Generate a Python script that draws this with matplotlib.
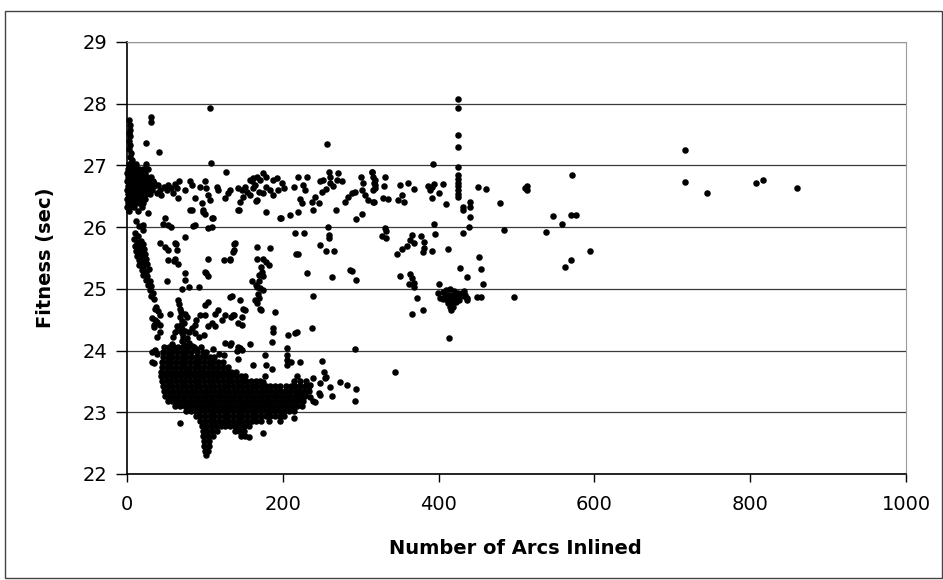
import numpy as np
import matplotlib
matplotlib.use("Agg")
import matplotlib.pyplot as plt
from matplotlib.patches import Rectangle

# (arcs inlined, fitness in sec), grouped by region

left_column = [
    (3, 27.74), (4, 27.66), (4, 27.58), (3, 27.52), (4, 27.47), (3, 27.40),
    (4, 27.33), (3, 27.27), (5, 27.20), (4, 27.14), (6, 27.08),
    (31, 27.78), (31, 27.70), (25, 27.36), (41, 27.22), (107, 27.93), (108, 27.04),
]

# dense block at the far left, rows of (fitness, [arcs])
left_block_rows = [
    (27.02, [2, 7, 12, 24]),
    (26.95, [1, 6, 10, 15, 20, 27]),
    (26.88, [0, 4, 9, 14, 18, 23]),
    (26.81, [1, 6, 11, 16, 21, 26, 31]),
    (26.74, [0, 4, 9, 13, 18, 23, 28, 33]),
    (26.67, [1, 6, 10, 15, 20, 25, 30, 35]),
    (26.60, [0, 4, 8, 13, 18, 22, 27, 32]),
    (26.53, [1, 5, 10, 15, 19, 24, 29]),
    (26.46, [0, 4, 9, 14, 18, 23]),
    (26.39, [1, 5, 10, 16, 21]),
    (26.32, [0, 4, 9, 19]),
    (26.26, [3, 14]),
]

left_band = [
    (12, 26.10), (16, 26.02), (21, 25.96), (10, 25.90), (14, 25.86), (9, 25.80),
    (13, 25.76), (18, 25.78), (10, 25.70), (15, 25.68), (20, 25.72), (12, 25.62),
    (17, 25.60), (22, 25.64), (13, 25.54), (18, 25.52), (23, 25.56), (15, 25.46),
    (20, 25.44), (25, 25.48), (16, 25.38), (21, 25.36), (26, 25.40), (19, 25.30),
    (24, 25.28), (28, 25.32), (21, 25.22), (26, 25.20), (24, 25.14), (29, 25.12),
    (27, 25.06), (31, 25.04), (29, 24.98), (33, 24.94), (31, 24.88), (35, 24.84),
    (27, 26.23), (21, 26.03), (49, 26.14), (53, 26.03), (56, 26.00), (42, 25.74),
    (49, 25.68), (53, 25.63), (62, 25.74), (64, 25.63), (53, 25.47), (62, 25.48),
    (75, 25.84), (51, 25.12), (74, 25.25), (75, 25.14), (100, 25.28), (104, 25.20),
    (70, 25.00), (92, 25.03), (104, 25.48), (124, 25.47), (132, 25.47), (139, 25.74),
    (137, 25.63), (143, 26.28), (109, 26.14), (98, 26.28), (100, 26.22), (83, 26.28),
    (87, 26.03), (109, 26.00), (63, 25.72), (46, 26.05), (85, 26.02), (104, 25.99),
    (66, 25.40), (60, 25.45), (102, 25.25), (80, 25.03),
]

top_band = [
    (34, 26.71), (40, 26.68), (47, 26.65), (53, 26.68), (57, 26.63), (51, 26.60),
    (42, 26.60), (38, 26.55), (44, 26.52), (62, 26.70), (64, 26.63), (59, 26.55),
    (66, 26.47), (67, 26.75), (74, 26.60), (81, 26.74), (83, 26.68), (81, 26.28),
    (87, 26.47), (94, 26.65), (100, 26.74), (102, 26.63), (96, 26.39), (98, 26.25),
    (104, 26.52), (107, 26.44), (111, 26.14), (115, 26.65), (117, 26.60), (126, 26.47),
    (127, 26.90), (130, 26.55), (132, 26.60), (143, 26.63), (147, 26.60), (152, 26.65),
    (145, 26.41), (149, 26.49), (158, 26.76), (162, 26.79), (167, 26.82), (171, 26.76),
    (175, 26.87), (179, 26.82), (162, 26.63), (169, 26.57), (175, 26.55), (179, 26.65),
    (184, 26.60), (188, 26.76), (192, 26.79), (167, 26.44), (179, 26.25), (196, 26.14),
    (209, 26.20), (214, 26.65), (220, 26.25), (224, 26.39), (220, 26.82), (231, 26.82),
    (226, 26.68), (154, 26.57), (158, 26.52), (160, 26.74), (164, 26.68), (188, 26.52),
    (194, 26.60), (199, 26.71), (201, 26.63), (166, 26.43), (144, 26.27), (198, 26.14),
    (229, 26.60), (222, 26.45), (239, 26.28), (237, 26.40), (241, 26.49), (246, 26.39),
    (248, 26.74), (252, 26.77), (250, 26.57), (256, 26.61), (261, 26.71), (259, 26.90),
    (261, 26.82), (265, 26.66), (269, 26.76), (271, 26.87), (276, 26.74), (268, 26.27),
    (280, 26.41), (284, 26.49), (289, 26.55), (293, 26.57), (294, 26.13), (302, 26.22),
    (300, 26.82), (303, 26.71), (301, 26.60), (306, 26.52), (309, 26.44), (315, 26.90),
    (316, 26.82), (317, 26.71), (318, 26.63), (317, 26.41), (257, 27.34),
]

mid_cloud = [
    (36, 24.68), (32, 24.52), (35, 24.41), (42, 24.58), (55, 24.60), (77, 24.55),
    (89, 24.49), (100, 24.74), (113, 24.60), (117, 24.66), (122, 24.49), (136, 24.58),
    (145, 24.82), (83, 24.36), (87, 24.41), (109, 24.44), (36, 24.49), (34, 24.38),
    (42, 24.41), (94, 24.58), (100, 24.58), (126, 24.58), (134, 24.55), (143, 24.44),
    (104, 24.39), (113, 24.39), (87, 24.28), (92, 24.22), (42, 24.30), (38, 24.22),
    (59, 24.22), (126, 24.12), (134, 24.12), (143, 24.06), (147, 24.01), (32, 23.82),
    (36, 24.01), (38, 23.95), (68, 22.82), (132, 24.87), (99, 24.25), (135, 24.88),
    (37, 24.71), (40, 24.64), (39, 24.46), (32, 23.98), (35, 23.80), (80, 24.30),
    (104, 24.78),
    (66, 24.82), (67, 24.75), (68, 24.68), (69, 24.62), (68, 24.55), (70, 24.48),
    (69, 24.41), (71, 24.35), (70, 24.28), (72, 24.22), (71, 24.15), (73, 24.09),
    (74, 24.60), (73, 24.45), (75, 24.32), (74, 24.18), (66, 24.33), (64, 24.40),
    (62, 24.30), (58, 24.10), (77, 24.20), (80, 24.12), (84, 24.08),
    (169, 25.22), (175, 25.20), (160, 25.12), (167, 25.03), (171, 25.01), (175, 24.98),
    (164, 24.82), (169, 24.85), (167, 24.77), (171, 24.68), (172, 24.66), (149, 24.68),
    (152, 24.66), (137, 24.58), (147, 24.55), (147, 24.41), (190, 24.62), (167, 25.67),
    (184, 25.66), (167, 25.49), (175, 25.49), (178, 25.44), (182, 25.39), (173, 25.28),
    (170, 25.12), (168, 24.92), (166, 25.07), (172, 25.35),
    (231, 25.25), (263, 25.19), (286, 25.30), (294, 25.14), (239, 24.88), (216, 25.90),
    (227, 25.90), (259, 25.87), (259, 25.82), (248, 25.71), (255, 25.61), (266, 25.61),
    (217, 25.56), (137, 25.73), (136, 25.60), (289, 25.29), (132, 25.49), (219, 25.57),
    (258, 26.00), (237, 24.37), (216, 24.28), (207, 24.25), (188, 24.36), (188, 24.30),
    (218, 24.30),
]

blob_edge = [
    (88, 24.02), (95, 24.05), (102, 23.98), (110, 24.03), (118, 23.95), (124, 23.92),
    (132, 24.09), (141, 24.00), (145, 24.04), (158, 24.11), (143, 23.87), (177, 23.93),
    (162, 23.76), (179, 23.76), (186, 23.70), (177, 23.58), (175, 23.49), (139, 23.63),
    (186, 24.14), (205, 24.04), (206, 23.93), (206, 23.85), (206, 23.76), (211, 23.82),
    (222, 23.82), (218, 23.59), (250, 23.83), (253, 23.66), (254, 23.55), (256, 23.57),
    (239, 23.55), (235, 23.44), (248, 23.47), (246, 23.31), (248, 23.28), (261, 23.41),
    (263, 23.26), (273, 23.49), (282, 23.44), (293, 24.02), (294, 23.37), (293, 23.18),
    (239, 23.19), (241, 23.17), (214, 22.90), (175, 22.66), (156, 22.60), (145, 22.70),
    (344, 23.66), (229, 23.31), (235, 23.25), (224, 23.25),
]

# the dense mass at the lower left, rows of (fitness, [arcs])
main_blob_rows = [
    (24.06, [48, 54, 60, 66, 72, 78, 86]),
    (23.98, [46, 52, 58, 64, 70, 76, 82, 90, 97]),
    (23.90, [46, 52, 58, 64, 70, 76, 82, 88, 94, 100, 106, 112]),
    (23.82, [45, 51, 57, 63, 69, 75, 81, 87, 93, 99, 105, 111, 117, 123]),
    (23.74, [45, 51, 57, 63, 69, 75, 81, 87, 93, 99, 105, 111, 117, 123, 129]),
    (23.66, [44, 50, 56, 62, 68, 74, 80, 86, 92, 98, 104, 110, 116, 122, 128, 134, 140]),
    (23.58, [44, 50, 56, 62, 68, 74, 80, 86, 92, 98, 104, 110, 116, 122, 128, 134, 140,
             146, 152]),
    (23.50, [45, 51, 57, 63, 69, 75, 81, 87, 93, 99, 105, 111, 117, 123, 129, 135, 141,
             147, 153, 159, 165, 171, 214, 222, 230]),
    (23.42, [46, 52, 58, 64, 70, 76, 82, 88, 94, 100, 106, 112, 118, 124, 130, 136, 142,
             148, 154, 160, 166, 172, 178, 184, 190, 196, 204, 210, 216, 222, 228, 234]),
    (23.34, [47, 53, 59, 65, 71, 77, 83, 89, 95, 101, 107, 113, 119, 125, 131, 137, 143,
             149, 155, 161, 167, 173, 179, 185, 191, 197, 203, 209, 215, 221, 227, 233]),
    (23.26, [49, 55, 61, 67, 73, 79, 85, 91, 97, 103, 109, 115, 121, 127, 133, 139, 145,
             151, 157, 163, 169, 175, 181, 187, 193, 199, 205, 211, 217, 223, 229]),
    (23.18, [52, 58, 64, 70, 76, 82, 88, 94, 100, 106, 112, 118, 124, 130, 136, 142, 148,
             154, 160, 166, 172, 178, 184, 190, 196, 202, 208, 214, 220, 226]),
    (23.10, [62, 68, 74, 80, 86, 92, 98, 104, 110, 116, 122, 128, 134, 140, 146, 152, 158,
             164, 170, 176, 182, 188, 194, 200, 206, 212, 218, 224]),
    (23.02, [76, 82, 88, 94, 100, 106, 112, 118, 124, 130, 136, 142, 148, 154, 160, 166,
             172, 178, 184, 190, 196, 202, 208, 214]),
    (22.94, [88, 94, 100, 106, 112, 118, 124, 130, 136, 142, 148, 154, 160, 166, 172, 178,
             184, 190, 196, 202]),
    (22.86, [94, 100, 106, 112, 118, 124, 130, 136, 142, 148, 154, 160, 166, 172, 182, 196]),
    (22.78, [96, 102, 108, 114, 120, 126, 132, 138, 144, 150, 156]),
    (22.70, [97, 103, 109, 115, 138, 144, 150]),
    (22.62, [98, 104, 110, 146, 152]),
    (22.54, [99, 105]),
    (22.46, [99, 105]),
    (22.38, [100, 104]),
    (22.30, [101]),
]

right_side = [
    (314, 26.90), (318, 26.76), (318, 26.68), (316, 26.60), (331, 26.81), (330, 26.67),
    (316, 26.41), (329, 26.47), (335, 26.45), (351, 26.68), (353, 26.52), (348, 26.44),
    (355, 26.41), (361, 26.72), (369, 26.61), (387, 26.67), (389, 26.60), (391, 26.65),
    (394, 26.70), (391, 26.48), (400, 26.55), (406, 26.70), (410, 26.37), (393, 27.02),
    (431, 26.33), (431, 26.28), (440, 26.41), (440, 26.33), (440, 26.17), (439, 26.00),
    (451, 26.65), (461, 26.61), (479, 26.39), (484, 25.95), (431, 25.91), (394, 26.05),
    (395, 25.89), (331, 25.99), (333, 25.93), (327, 25.85), (333, 25.82), (366, 25.87),
    (363, 25.79), (368, 25.74), (359, 25.69), (353, 25.64), (347, 25.56), (378, 25.85),
    (381, 25.76), (381, 25.66), (380, 25.59), (391, 25.61), (412, 25.64), (452, 25.52),
    (455, 25.32), (457, 25.08), (427, 25.33), (436, 25.19), (350, 25.21), (363, 25.24),
    (366, 25.17), (368, 25.10), (362, 25.08), (369, 25.03), (372, 24.85), (366, 24.59),
    (380, 24.65), (401, 25.08), (399, 24.94), (416, 24.66), (432, 24.96), (434, 24.90),
    (436, 24.85), (449, 24.87), (455, 24.87), (413, 24.20), (497, 24.86),
    (425, 28.07), (425, 27.93), (425, 27.49), (425, 27.30), (425, 26.98), (425, 26.84),
    (425, 26.78), (425, 26.72), (425, 26.66), (425, 26.60), (425, 26.54), (425, 26.49),
    (405, 24.95), (410, 24.98), (415, 25.00), (420, 24.97), (425, 24.93), (408, 24.88),
    (413, 24.90), (418, 24.90), (423, 24.87), (428, 24.88), (433, 24.88), (405, 24.83),
    (410, 24.83), (415, 24.84), (420, 24.82), (426, 24.82), (412, 24.77), (417, 24.76),
    (422, 24.78), (414, 24.71), (419, 24.70), (402, 24.85), (430, 24.93), (436, 24.82),
]

far_right = [
    (511, 26.63), (513, 26.66), (514, 26.60), (538, 25.92), (547, 26.18), (559, 26.05),
    (562, 25.36), (570, 25.46), (571, 26.84), (570, 26.20), (576, 26.20), (594, 25.61),
    (716, 27.25), (716, 26.73), (744, 26.56), (808, 26.71), (816, 26.76), (860, 26.64),
]


def rows_to_points(rows):
    return [(x, y) for y, xs in rows for x in xs]


points = (left_column + rows_to_points(left_block_rows) + left_band + top_band
          + mid_cloud + blob_edge + rows_to_points(main_blob_rows) + right_side + far_right)
arcs = np.array([p[0] for p in points])
fitness = np.array([p[1] for p in points])

fig = plt.figure(figsize=(9.43, 5.8), dpi=100)
ax = fig.add_axes([0.1347, 0.1828, 0.8261, 0.7448])

ax.scatter(arcs, fitness, s=22, c='black', linewidths=0, clip_on=False, zorder=3)

ax.set_xlim(0, 1000)
ax.set_ylim(22, 29)
ax.set_xticks([0, 200, 400, 600, 800, 1000])
ax.set_yticks(range(22, 30))
ax.yaxis.grid(True, color='#3a3a3a', linewidth=0.9)
ax.set_axisbelow(True)

for side in ['top', 'right']:
    ax.spines[side].set_color('#9a9a9a')
    ax.spines[side].set_linewidth(0.8)
for side in ['left', 'bottom']:
    ax.spines[side].set_color('black')
    ax.spines[side].set_linewidth(1.2)

ax.tick_params(axis='both', labelsize=14, direction='out', color='black', width=1)
ax.tick_params(axis='y', length=8, pad=6)
ax.tick_params(axis='x', length=6, pad=9)

ax.set_xlabel('Number of Arcs Inlined', fontsize=14, fontweight='bold')
ax.set_ylabel('Fitness (sec)', fontsize=14, fontweight='bold')
ax.xaxis.set_label_coords(0.498, -0.150)
ax.yaxis.set_label_coords(-0.092, 0.5)

# outer frame around the whole chart
fig.add_artist(Rectangle((0.005, 0.004), 0.994, 0.977, transform=fig.transFigure,
                         fill=False, linewidth=1, edgecolor='#444444'))

plt.savefig('out.png', dpi=100)
